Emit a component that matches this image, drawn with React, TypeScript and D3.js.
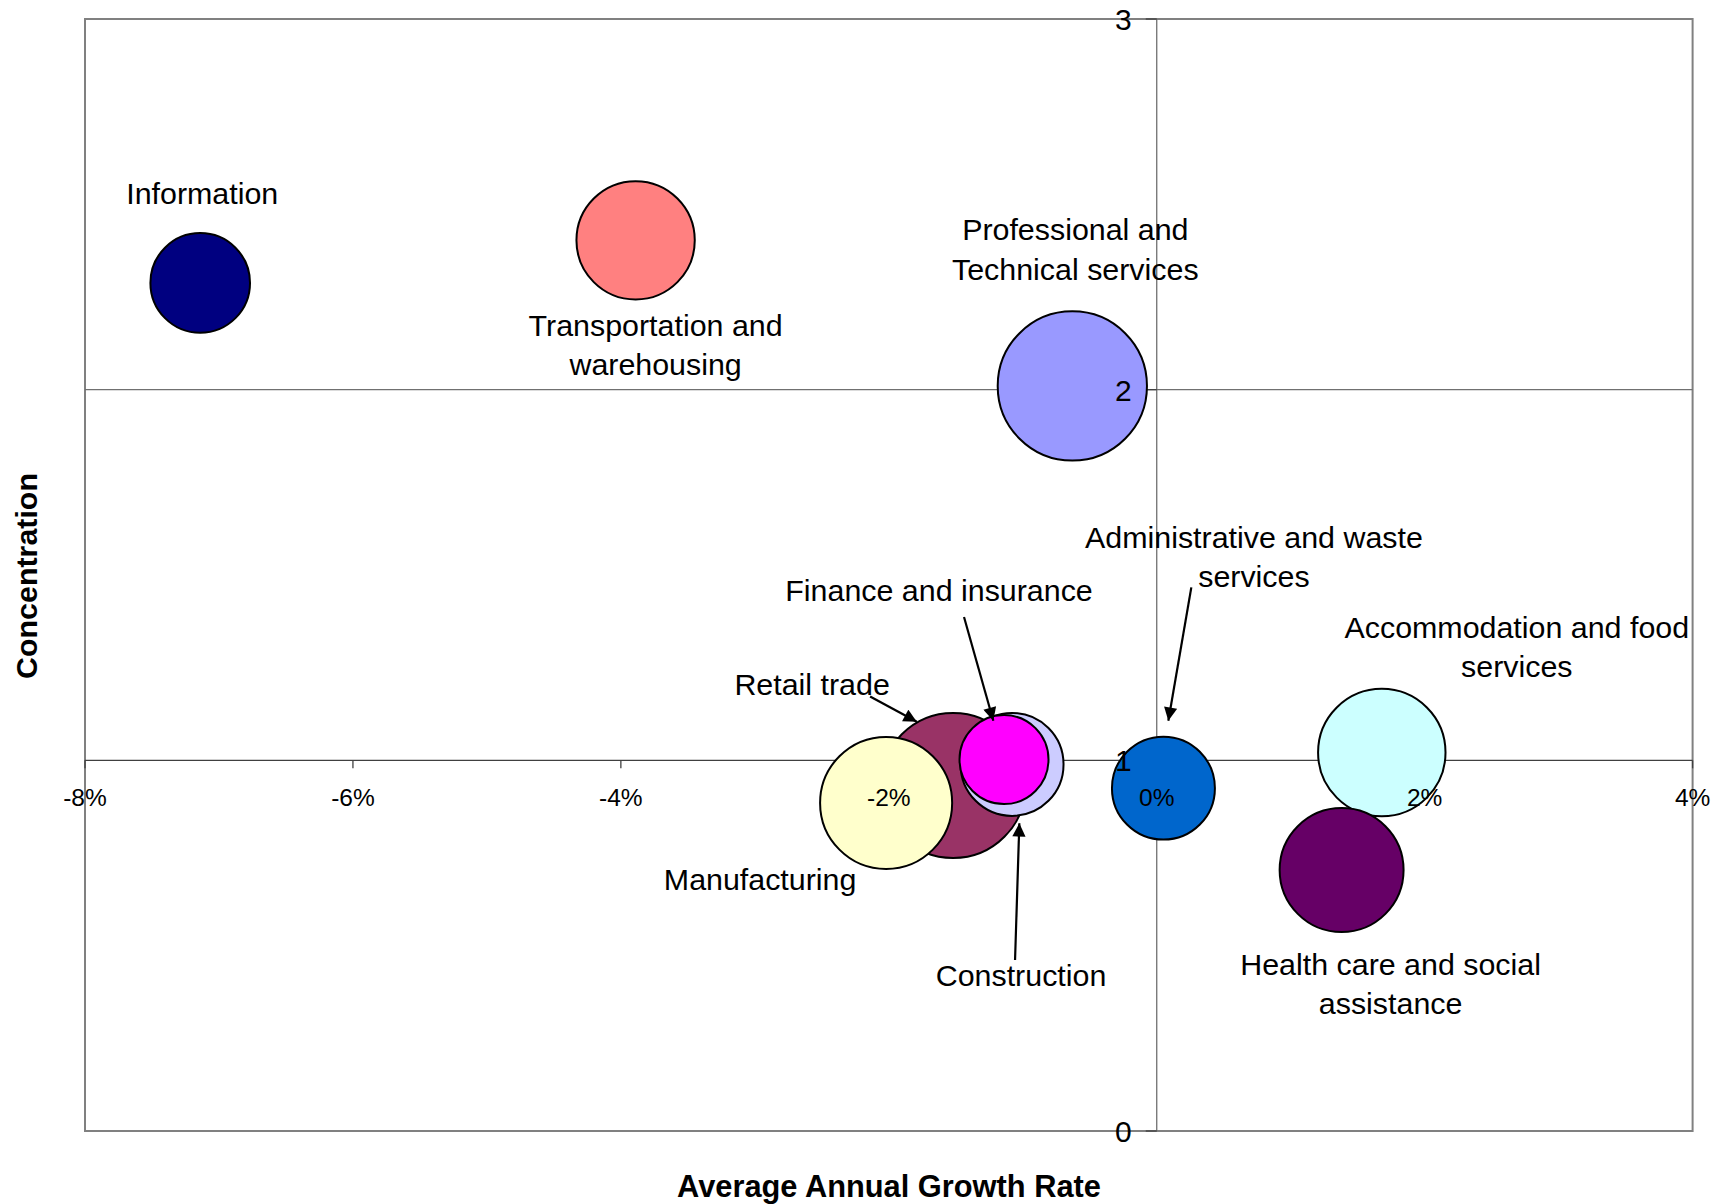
import React from "react";
import * as d3 from "d3";

// ---- Data ----
const industries = [
  "Information",
  "Transportation and warehousing",
  "Professional and Technical services",
  "Administrative and waste services",
  "Accommodation and food services",
  "Health care and social assistance",
  "Retail trade",
  "Manufacturing",
  "Construction",
  "Finance and insurance",
];
// average annual growth rate (fraction)
const growthRate = [-0.0714, -0.0389, -0.0063, 0.0005, 0.0168, 0.0138, -0.0152, -0.0202, -0.0108, -0.0114];
// concentration (location quotient)
const concentration = [2.288, 2.403, 2.01, 0.925, 1.021, 0.704, 0.932, 0.885, 0.989, 1.002];
// bubble size (relative employment)
const employment = [24.8, 35.0, 55.7, 26.5, 40.6, 38.4, 52.6, 43.6, 26.5, 19.8];

const xTicks = [-0.08, -0.06, -0.04, -0.02, 0, 0.02, 0.04];
const yTicks = [0, 1, 2, 3];

// ---- Styles / annotation layout ----
const colors = ["#000080", "#FF8080", "#9999FF", "#0066CC", "#CCFFFF", "#660066", "#993366", "#FFFFCC", "#CCCCFF", "#FF00FF"];
const labelLines: string[][] = [
  ["Information"],
  ["Transportation and", "warehousing"],
  ["Professional and", "Technical services"],
  ["Administrative and waste", "services"],
  ["Accommodation and food", "services"],
  ["Health care and social", "assistance"],
  ["Retail trade"],
  ["Manufacturing"],
  ["Construction"],
  ["Finance and insurance"],
];
// offset of first-line baseline from bubble centre (px)
const labelOffsets: [number, number][] = [
  [2, -79], [20, 96], [3, -145.5], [90.5, -240], [135, -115],
  [49, 105], [-141, -90.5], [-126, 87], [9, 222], [-65, -159],
];
// arrows: [index, fromDx, fromDy, toDx, toDy] relative to bubble centre
const arrows: [number, number, number, number, number][] = [
  [6, -83, -89, -36.3, -63.8],
  [9, -40, -142.6, -10.7, -38.9],
  [8, 3, 195.6, 7.3, 58.9],
  [3, 27.9, -200.8, 4.9, -67.4],
];

const W = 1720;
const H = 1204;
const left = 85, right = 1692.6, top = 19, bottom = 1131;
const FONT = "'Liberation Sans', Arial, Helvetica, sans-serif";

export default function App() {
  const x = d3.scaleLinear().domain([-0.08, 0.04]).range([left, right]);
  const y = d3.scaleLinear().domain([0, 3]).range([bottom, top]);
  const r = d3.scaleSqrt().domain([0, 100]).range([0, 100]);
  const x0 = x(0);
  const y1 = y(1);
  const fmt = (v: number) => `${Math.round(v * 100)}%`;

  const data = industries.map((name, i) => ({
    name,
    cx: x(growthRate[i]),
    cy: y(concentration[i]),
    rr: r(employment[i]),
    color: colors[i],
    i,
  }));

  return (
    <svg width={W} height={H} style={{ position: "absolute", left: 0, top: 0, background: "#fff" }} fontFamily={FONT}>
      <defs>
        <marker id="ah" viewBox="0 0 10 10" refX="10" refY="5" markerWidth="6.5" markerHeight="6" orient="auto-start-reverse" markerUnits="strokeWidth">
          <path d="M0,0 L10,5 L0,10 z" fill="#000" />
        </marker>
      </defs>
      <rect x={0} y={0} width={W} height={H} fill="#fff" />
      {/* plot frame */}
      <rect x={left} y={top} width={right - left} height={bottom - top} fill="none" stroke="#808080" strokeWidth={2} />
      {/* gridlines */}
      {yTicks.filter((t) => t === 2).map((t) => (
        <line key={"g" + t} x1={left} x2={right} y1={y(t)} y2={y(t)} stroke="#707070" strokeWidth={1.3} />
      ))}
      {/* axes */}
      <line x1={left} x2={right} y1={y1} y2={y1} stroke="#404040" strokeWidth={1.3} />
      <line x1={x0} x2={x0} y1={top} y2={bottom} stroke="#707070" strokeWidth={1.3} />
      {xTicks.map((t) => (
        <line key={"xt" + t} x1={x(t)} x2={x(t)} y1={y1} y2={y1 + 8} stroke="#404040" strokeWidth={1.3} />
      ))}
      {yTicks.map((t) => (
        <line key={"yt" + t} x1={x0 - 11} x2={x0} y1={y(t)} y2={y(t)} stroke="#404040" strokeWidth={1.3} />
      ))}
      {/* bubbles */}
      {data.map((d) => (
        <circle key={d.name} cx={d.cx} cy={d.cy} r={d.rr} fill={d.color} stroke="#000" strokeWidth={2} />
      ))}
      {/* tick labels */}
      {xTicks.map((t) => (
        <text key={"xl" + t} x={x(t)} y={806} fontSize={24.5} textAnchor="middle" fill="#000">{fmt(t)}</text>
      ))}
      {yTicks.map((t) => (
        <text key={"yl" + t} x={x0 - 25} y={y(t) + 11} fontSize={30} textAnchor="end" fill="#000">{t}</text>
      ))}
      {/* labels */}
      {data.map((d) => (
        <text key={"l" + d.name} fontSize={30.4} textAnchor="middle" fill="#000">
          {labelLines[d.i].map((ln, k) => (
            <tspan key={k} x={d.cx + labelOffsets[d.i][0]} y={d.cy + labelOffsets[d.i][1] + k * 39.2}>{ln}</tspan>
          ))}
        </text>
      ))}
      {/* arrows */}
      {arrows.map(([i, fx, fy, tx, ty]) => (
        <line key={"a" + i} x1={data[i].cx + fx} y1={data[i].cy + fy} x2={data[i].cx + tx} y2={data[i].cy + ty}
          stroke="#000" strokeWidth={2.2} markerEnd="url(#ah)" />
      ))}
      {/* axis titles */}
      <text x={889} y={1197} fontSize={30.8} fontWeight="bold" textAnchor="middle" fill="#000">Average Annual Growth Rate</text>
      <text transform={`translate(37,576) rotate(-90)`} fontSize={30.4} fontWeight="bold" textAnchor="middle" fill="#000">Concentration</text>
    </svg>
  );
}
